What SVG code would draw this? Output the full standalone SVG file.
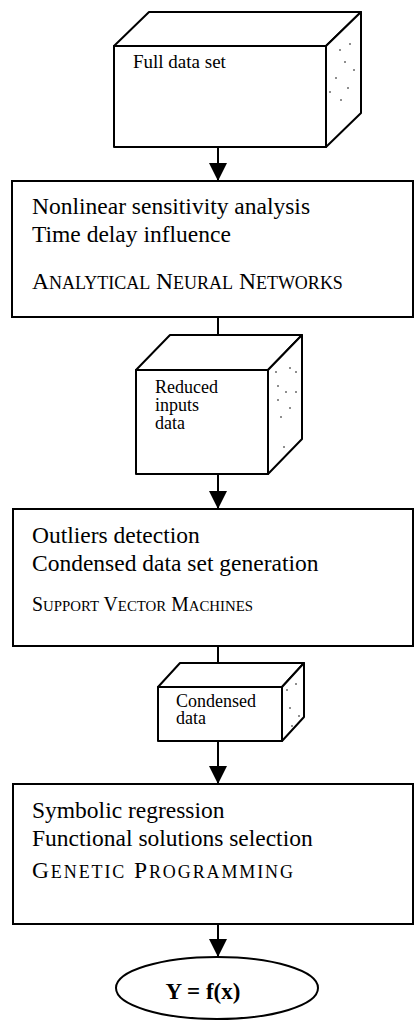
<svg xmlns="http://www.w3.org/2000/svg" width="414" height="1023" viewBox="0 0 414 1023">
<style>
.box{fill:#fff;stroke:#000;stroke-width:2}
.face{fill:#fff;stroke:#000;stroke-width:2;stroke-linejoin:round}
.dot{fill:#000}
.t{font-family:"Liberation Serif","Times New Roman",serif;fill:#000}
.bt{font-size:23.5px}
.ct{font-size:18px}
.sc{font-size:23.5px}
.sm{font-size:18px}
.conn{stroke:#000;stroke-width:2;fill:none}
</style>
<defs>
<marker id="ah" markerUnits="userSpaceOnUse" markerWidth="20" markerHeight="20" viewBox="0 0 20 20" refX="10" refY="18" orient="0">
<path d="M1,0 L19,0 L10,18 Z" fill="#000"/>
</marker>
</defs>

<g id="connectors">
<line class="conn" x1="218" y1="147" x2="218" y2="181" marker-end="url(#ah)"/>
<line class="conn" x1="218" y1="317" x2="218" y2="353" marker-end="url(#ah)"/>
<line class="conn" x1="218" y1="474" x2="218" y2="509" marker-end="url(#ah)"/>
<line class="conn" x1="218" y1="646" x2="218" y2="684" marker-end="url(#ah)"/>
<line class="conn" x1="218" y1="741" x2="218" y2="784" marker-end="url(#ah)"/>
<line class="conn" x1="218" y1="924" x2="218" y2="957" marker-end="url(#ah)"/>
</g>

<g id="cube-full-data">
<path class="face" d="M114,46 L149,12 L361,12 L326,46 Z"/>
<path class="face" d="M326,46 L361,12 L361,113 L326,147 Z"/>
<rect class="face" x="114" y="46" width="212" height="101"/>
<g class="dot"><circle cx="340" cy="50" r="0.8"/><circle cx="350" cy="44" r="0.8"/><circle cx="345" cy="62" r="0.8"/><circle cx="354" cy="70" r="0.8"/><circle cx="336" cy="78" r="0.8"/><circle cx="348" cy="88" r="0.8"/><circle cx="341" cy="100" r="0.8"/><circle cx="330" cy="92" r="0.8"/></g>
<text class="t" x="133" y="68" font-size="19px">Full data set</text>
</g>

<g id="box-ann">
<rect class="box" x="12" y="181" width="401" height="136"/>
<text class="t bt" x="32" y="214">Nonlinear sensitivity analysis</text>
<text class="t bt" x="32" y="242">Time delay influence</text>
<text class="t sc" x="32" y="289">A<tspan class="sm">NALYTICAL</tspan> N<tspan class="sm">EURAL</tspan> N<tspan class="sm">ETWORKS</tspan></text>
</g>

<g id="cube-reduced">
<path class="face" d="M136,370 L170,335 L302,335 L268,370 Z"/>
<path class="face" d="M268,370 L302,335 L302,439 L268,474 Z"/>
<rect class="face" x="136" y="370" width="132" height="104"/>
<g class="dot"><circle cx="276" cy="372" r="0.8"/><circle cx="290" cy="368" r="0.8"/><circle cx="296" cy="372" r="0.8"/><circle cx="278" cy="386" r="0.8"/><circle cx="286" cy="392" r="0.8"/><circle cx="296" cy="392" r="0.8"/><circle cx="278" cy="400" r="0.8"/><circle cx="290" cy="408" r="0.8"/><circle cx="281" cy="417" r="0.8"/><circle cx="284" cy="447" r="0.8"/></g>
<text class="t ct" x="155" y="393">Reduced</text>
<text class="t ct" x="155" y="411">inputs</text>
<text class="t ct" x="155" y="429">data</text>
</g>

<g id="box-svm">
<rect class="box" x="13" y="509" width="400" height="137"/>
<text class="t bt" x="32" y="543">Outliers detection</text>
<text class="t bt" x="32" y="571">Condensed data set generation</text>
<text class="t" x="32" y="611" font-size="20px" textLength="221" lengthAdjust="spacingAndGlyphs">S<tspan font-size="15px">UPPORT</tspan> V<tspan font-size="15px">ECTOR</tspan> M<tspan font-size="15px">ACHINES</tspan></text>
</g>

<g id="cube-condensed">
<path class="face" d="M158,687 L180,663 L304,663 L282,687 Z"/>
<path class="face" d="M282,687 L304,663 L304,717 L282,741 Z"/>
<rect class="face" x="158" y="687" width="124" height="54"/>
<g class="dot"><circle cx="287" cy="690" r="0.8"/><circle cx="296" cy="684" r="0.8"/><circle cx="290" cy="708" r="0.8"/><circle cx="299" cy="716" r="0.8"/><circle cx="292" cy="726" r="0.8"/></g>
<text class="t ct" x="176" y="707">Condensed</text>
<text class="t ct" x="176" y="724">data</text>
</g>

<g id="box-gp">
<rect class="box" x="13" y="784" width="400" height="140"/>
<text class="t bt" x="32" y="818">Symbolic regression</text>
<text class="t bt" x="32" y="846">Functional solutions selection</text>
<text class="t sc" x="32" y="878" textLength="261" lengthAdjust="spacing">G<tspan class="sm">ENETIC</tspan> P<tspan class="sm">ROGRAMMING</tspan></text>
</g>

<g id="result">
<ellipse class="box" cx="217" cy="988" rx="101" ry="31"/>
<text class="t" x="203" y="999" font-size="23" font-weight="bold" text-anchor="middle">Y = f(x)</text>
</g>
</svg>
